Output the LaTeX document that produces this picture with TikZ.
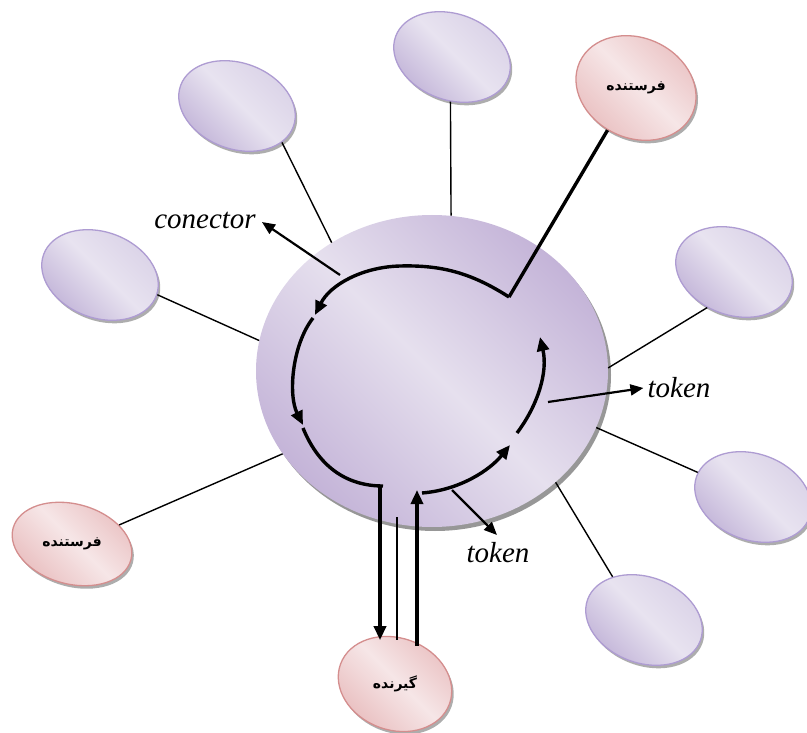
\documentclass[tikz,border=0pt]{standalone}
\usepackage{fontspec}
\setmainfont{Liberation Serif}
\newfontfamily\fafont[Script=Arabic]{DejaVu Sans}
\TeXXeTstate=1
\usetikzlibrary{shapes.geometric,arrows.meta,shadows}
\definecolor{pborder}{HTML}{AE9CD2}
\definecolor{pdark}{HTML}{C2B4D8}
\definecolor{plight}{HTML}{E8E3F0}
\definecolor{pmid}{HTML}{D8D0E6}
\definecolor{rborder}{HTML}{D48E8E}
\definecolor{rdark}{HTML}{E9BFC0}
\definecolor{rlight}{HTML}{F6E6E7}
\definecolor{bigdark}{HTML}{C4B4D8}
\definecolor{biglight}{HTML}{E6E0EE}
\tikzset{
  oval/.style={ellipse, inner sep=0pt, line width=1.3pt,
    drop shadow={shadow xshift=2pt, shadow yshift=-3pt, fill=black!40, opacity=0.8}},
  purp/.style={oval, draw=pborder, shading=axis, top color=pmid,
    bottom color=pdark, middle color=plight, shading angle=-45, minimum width=120pt, minimum height=86pt, rotate=-20},
  pink/.style={oval, draw=rborder, shading=axis, top color=rdark,
    bottom color=rdark, middle color=rlight, shading angle=-45},
  spoke/.style={line width=1.4pt},
  heavy/.style={line width=3.4pt},
  harrow/.style={heavy, -{Triangle[length=14pt,width=12pt]}},
  marrow/.style={line width=2.2pt, -{Triangle[length=13pt,width=11pt]}},
  lbl/.style={font=\itshape\fontsize{29}{31}\selectfont, inner sep=0pt},
  fa/.style={font=\fafont\bfseries\fontsize{14}{16}\selectfont, inner sep=0pt}
}
\begin{document}
\begin{tikzpicture}[x=1pt,y=-1pt]
\useasboundingbox (0,0) rectangle (807,733);
% big ellipse
\node[ellipse, inner sep=0pt, minimum width=352pt, minimum height=312pt,
  shading=axis, top color=bigdark, bottom color=bigdark, middle color=biglight,
  shading angle=-45,
  drop shadow={shadow xshift=3pt, shadow yshift=-4pt, fill=black!45, opacity=0.9}] (B) at (432,371) {};
% small ellipses
\node[purp] (e1) at (237,106) {};
\node[purp] (e2) at (452,57) {};
\node[purp] (e3) at (100,275) {};
\node[purp] (e4) at (734,272) {};
\node[purp] (e5) at (753,497) {};
\node[purp] (e6) at (644,620) {};
\node[pink, minimum width=124pt, minimum height=100pt, rotate=-25] (p1) at (636,88) {};
\node[pink, minimum width=122pt, minimum height=80pt, rotate=-15] (p2) at (72,544) {};
\node[pink, minimum width=116pt, minimum height=92pt, rotate=-20] (p3) at (395,684) {};
\node[fa] at (p1.center) {\beginR فرستنده\endR};
\node[fa] at (p2.center) {\beginR فرستنده\endR};
\node[fa] at (p3.center) {\beginR گیرنده\endR};
% spokes
\draw[spoke] (e1.-19) -- (B.128.4);
\draw[spoke] (e2.-72.7) -- (B.83.4);
\draw[spoke] (e3.1) -- (B.170);
\draw[spoke] (e4.-107.6) -- (B.1.6);
\draw[spoke] (e5.176.7) -- (B.-19.3);
\draw[spoke] (e6.146.4) -- (B.-42.3);
\draw[spoke] (p2.37.4) -- (B.-151);
% ring path coordinates
\coordinate (j) at (509,297);
\coordinate (a1) at (315,315);
\coordinate (a2s) at (313,318);
\coordinate (a2) at (303,425);
\coordinate (a3s) at (303,428);
\coordinate (a3) at (383,486);
\coordinate (d0) at (380,485);
\coordinate (u1) at (417,490);
\coordinate (b1s) at (422,493);
\coordinate (b1) at (510,445);
\coordinate (b2s) at (517,433);
\coordinate (b2) at (540,337);
\coordinate (t1s) at (548,402);
\coordinate (t2s) at (452,490);
\coordinate (t2e) at (497,535);
\coordinate (cs) at (340,275);
\coordinate (ts) at (397,517);
% thick line from top-right sender
\draw[heavy] (p1.-99) -- (j);
% ring
\draw[harrow] (j) .. controls (470,272) and (440,265) .. (400,266)
  .. controls (362,267) and (330,285) .. (a1);
\draw[harrow] (a2s) .. controls (292,345) and (288,395) .. (a2);
\draw[heavy] (a3s) .. controls (318,465) and (345,486) .. (a3);
\draw[harrow] (d0) -- (p3.north -| d0);
\draw[spoke] (ts) -- (p3.north -| ts);
\draw[harrow] (p3.north -| u1) ++(0,6) -- (u1);
\draw[harrow] (b1s) .. controls (460,490) and (490,470) .. (b1);
\draw[harrow] (b2s) .. controls (538,405) and (548,372) .. (b2);
% labels
\node[lbl] (tk1) at (679,388) {token};
\node[lbl] (tk2) at (498,553) {token};
\node[lbl] (con) at (205,220) {conector};
\draw[marrow] (t1s) -- ([xshift=-4pt]tk1.west);
\draw[marrow] (t2s) -- (t2e);
\draw[marrow] (cs) -- ([xshift=6pt,yshift=-2pt]con.east);
\end{tikzpicture}
\end{document}
